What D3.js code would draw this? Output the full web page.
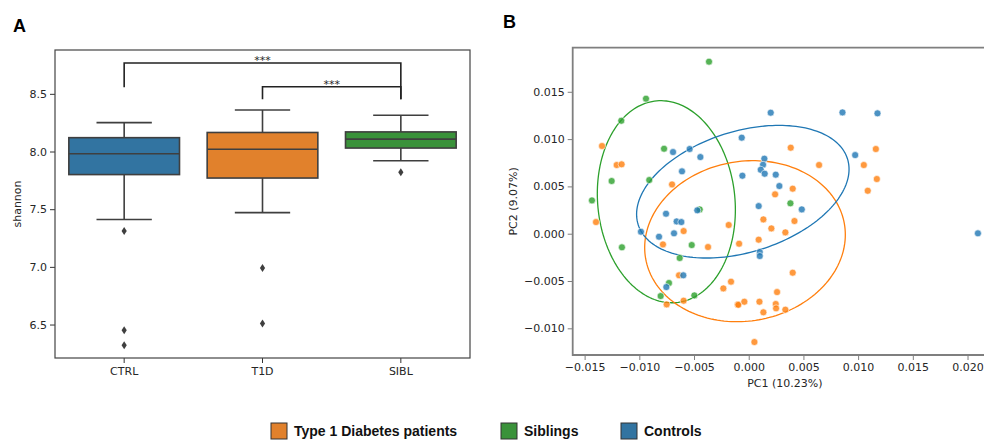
<!DOCTYPE html>
<meta charset="utf-8">
<style>
    body { margin: 0; background: #fff; }
    svg text { font-family: "DejaVu Sans", sans-serif; fill: #262626; }
    .panel-label { font-family: "Liberation Sans", Arial, sans-serif; font-weight: bold; font-size: 18px; fill: #000; }
    .legend-text { font-family: "Liberation Sans", Arial, sans-serif; font-weight: bold; font-size: 14px; fill: #111; }
    .tick text { font-size: 11px; }
</style>
<body>
<script src="https://cdnjs.cloudflare.com/ajax/libs/d3/7.8.5/d3.min.js"></script>
<script>
    // ---- panel A: shannon diversity boxplots ----
    var groups = ["CTRL", "T1D", "SIBL"];
    var q1 = [7.80, 7.77, 8.03];
    var medians = [7.98, 8.02, 8.107];
    var q3 = [8.12, 8.165, 8.17];
    var whiskLo = [7.41, 7.47, 7.92];
    var whiskHi = [8.25, 8.36, 8.315];
    var outliers = [[7.31, 6.45, 6.32], [6.99, 6.51], [7.82]];
    var boxColors = ["#3274a1", "#e1812c", "#3a923a"];
    var shannonTicks = [6.5, 7.0, 7.5, 8.0, 8.5];

    // significance brackets: from, to, bar level, left leg end, right leg end
    var brackets = [
        {from: "CTRL", to: "SIBL", bar: 8.767, left: 8.557, right: 8.453, label: "***"},
        {from: "T1D", to: "SIBL", bar: 8.562, left: 8.453, right: 8.453, label: "***"}
    ];

    // ---- panel B: PCoA ----
    var ctrlPts = [
        [0.00201, 0.01279], [0.00857, 0.01282], [0.01177, 0.01272], [-0.00064, 0.01015],
        [-0.00692, 0.00863], [-0.00540, 0.00895], [-0.00442, 0.00810], [-0.00610, 0.00659],
        [-0.00058, 0.00613], [0.00143, 0.00793], [0.00131, 0.00729], [0.00110, 0.00676],
        [0.00146, 0.00634], [0.00247, 0.00624], [0.00280, 0.00504], [0.00973, 0.00831],
        [-0.00756, 0.00211], [-0.00659, 0.00130], [-0.00616, 0.00123], [-0.00470, 0.00247],
        [-0.00985, 0.00021], [-0.00820, -0.00032], [-0.00683, 0.00004], [0.00091, 0.00292],
        [0.00485, 0.00257], [0.00101, -0.00194], [0.00101, -0.00236], [-0.00598, -0.00440],
        [-0.00753, -0.00564], [0.02095, 0.00004]
    ];
    var t1dPts = [
        [-0.01341, 0.00927], [-0.01207, 0.00726], [-0.01162, 0.00733], [-0.00701, 0.00521],
        [0.00384, 0.00909], [0.00643, 0.00726], [0.01052, 0.00726], [0.01162, 0.00895],
        [0.01171, 0.00578], [0.01088, 0.00454], [0.00241, 0.00416], [0.00402, 0.00476],
        [-0.01396, 0.00123], [-0.00595, 0.00028], [-0.00784, -0.00113], [-0.00372, -0.00141],
        [-0.00183, 0.00092], [-0.00088, -0.00106], [0.00091, -0.00063], [0.00134, 0.00151],
        [0.00207, 0.00056], [0.00335, 0.00014], [0.00418, 0.00134], [-0.00637, -0.00440],
        [-0.00595, -0.00708], [-0.00750, -0.00747], [-0.00232, -0.00578], [-0.00162, -0.00507],
        [-0.00101, -0.00747], [-0.00095, -0.00752], [-0.00040, -0.00719], [0.00098, -0.00719],
        [0.00134, -0.00831], [0.00247, -0.00743], [0.00250, -0.00789], [0.00259, -0.00617],
        [0.00335, -0.00803], [0.00402, -0.00412], [0.00052, -0.01145]
    ];
    var siblPts = [
        [-0.00363, 0.01818], [-0.00939, 0.01427], [-0.01165, 0.01194], [-0.00774, 0.00898],
        [-0.01253, 0.00557], [-0.00909, 0.00567], [-0.01433, 0.00352], [-0.00448, 0.00257],
        [-0.01159, -0.00144], [-0.00521, -0.00120], [-0.00631, -0.00257], [-0.00729, -0.00521],
        [-0.00805, -0.00659], [-0.00497, -0.00652], [0.00381, 0.00321]
    ];
    // confidence ellipses: centre x, centre y, half-width, half-height, correlation
    var ellipses = [
        {name: "SIBL", cx: -0.00753, cy: 0.00338, sx: 0.00631, sy: 0.01068, rho: -0.08},
        {name: "T1D", cx: -0.00034, cy: -0.00079, sx: 0.00917, sy: 0.00851, rho: 0.08},
        {name: "CTRL", cx: -0.00054, cy: 0.00444, sx: 0.00971, sy: 0.00701, rho: 0.34}
    ];
    var pcColors = {CTRL: "#1f77b4", T1D: "#ff7f0e", SIBL: "#2ca02c"};
    var pcXTicks = [-0.015, -0.010, -0.005, 0.000, 0.005, 0.010, 0.015, 0.020];
    var pcYTicks = [-0.010, -0.005, 0.000, 0.005, 0.010, 0.015];

    var legendItems = ["Type 1 Diabetes patients", "Siblings", "Controls"];
    var legendColors = ["#e1812c", "#3a923a", "#3274a1"];

    var width = 984, height = 441;
    var svg = d3.select("body").append("svg")
        .attr("width", width)
        .attr("height", height);

    // ================= panel A =================
    var a = {left: 55, right: 470, top: 50, bottom: 358};
    var xA = d3.scaleBand().domain(groups).range([a.left, a.right]);
    var yA = d3.scaleLinear().domain([6.21, 8.88]).range([a.bottom, a.top]);
    var edge = "#3f3f3f";

    var gA = svg.append("g");

    gA.append("g")
        .attr("transform", "translate(" + a.left + ",0)")
        .call(d3.axisLeft(yA).tickValues(shannonTicks).tickFormat(d3.format(".1f")).tickSize(5).tickPadding(3))
        .call(function(g) { g.select(".domain").remove(); g.selectAll("line").attr("stroke", "#333"); });

    gA.append("g")
        .attr("transform", "translate(0," + a.bottom + ")")
        .call(d3.axisBottom(xA).tickSize(5).tickPadding(4))
        .call(function(g) { g.select(".domain").remove(); g.selectAll("line").attr("stroke", "#333"); });

    var bw = xA.bandwidth() * 0.8;
    var boxes = gA.selectAll(".box").data(groups).enter().append("g").attr("class", "box");

    boxes.append("line")
        .attr("x1", function(d) { return xA(d) + xA.bandwidth() / 2; })
        .attr("x2", function(d) { return xA(d) + xA.bandwidth() / 2; })
        .attr("y1", function(d, i) { return yA(whiskHi[i]); })
        .attr("y2", function(d, i) { return yA(q3[i]); })
        .attr("stroke", edge).attr("stroke-width", 1.6);
    boxes.append("line")
        .attr("x1", function(d) { return xA(d) + xA.bandwidth() / 2; })
        .attr("x2", function(d) { return xA(d) + xA.bandwidth() / 2; })
        .attr("y1", function(d, i) { return yA(q1[i]); })
        .attr("y2", function(d, i) { return yA(whiskLo[i]); })
        .attr("stroke", edge).attr("stroke-width", 1.6);
    [whiskHi, whiskLo].forEach(function(arr) {
        boxes.append("line")
            .attr("x1", function(d) { return xA(d) + xA.bandwidth() / 2 - bw / 4; })
            .attr("x2", function(d) { return xA(d) + xA.bandwidth() / 2 + bw / 4; })
            .attr("y1", function(d, i) { return yA(arr[i]); })
            .attr("y2", function(d, i) { return yA(arr[i]); })
            .attr("stroke", edge).attr("stroke-width", 1.6);
    });
    boxes.append("rect")
        .attr("x", function(d) { return xA(d) + (xA.bandwidth() - bw) / 2; })
        .attr("width", bw)
        .attr("y", function(d, i) { return yA(q3[i]); })
        .attr("height", function(d, i) { return yA(q1[i]) - yA(q3[i]); })
        .attr("fill", function(d, i) { return boxColors[i]; })
        .attr("stroke", edge).attr("stroke-width", 1.6);
    boxes.append("line")
        .attr("x1", function(d) { return xA(d) + (xA.bandwidth() - bw) / 2; })
        .attr("x2", function(d) { return xA(d) + (xA.bandwidth() + bw) / 2; })
        .attr("y1", function(d, i) { return yA(medians[i]); })
        .attr("y2", function(d, i) { return yA(medians[i]); })
        .attr("stroke", edge).attr("stroke-width", 1.6);

    // outlier diamonds
    var fliers = [];
    groups.forEach(function(g, i) {
        outliers[i].forEach(function(v) { fliers.push({g: g, v: v}); });
    });
    gA.selectAll(".flier").data(fliers).enter().append("path")
        .attr("class", "flier")
        .attr("transform", function(d) { return "translate(" + (xA(d.g) + xA.bandwidth() / 2) + "," + yA(d.v) + ")"; })
        .attr("d", "M0,-4L2.6,0L0,4L-2.6,0Z")
        .attr("fill", edge);

    // significance brackets
    var bk = gA.selectAll(".bracket").data(brackets).enter().append("g").attr("class", "bracket");
    bk.append("path")
        .attr("d", function(d) {
            var x1 = xA(d.from) + xA.bandwidth() / 2, x2 = xA(d.to) + xA.bandwidth() / 2;
            return "M" + x1 + "," + yA(d.left) + "V" + yA(d.bar) + "H" + x2 + "V" + yA(d.right);
        })
        .attr("fill", "none")
        .attr("stroke", "#222")
        .attr("stroke-width", 1.6);
    bk.append("text")
        .attr("x", function(d) { return (xA(d.from) + xA(d.to)) / 2 + xA.bandwidth() / 2; })
        .attr("y", function(d) { return yA(d.bar) + 1; })
        .attr("text-anchor", "middle")
        .style("font-size", "11px")
        .text(function(d) { return d.label; });

    gA.append("rect")
        .attr("x", a.left).attr("y", a.top)
        .attr("width", a.right - a.left).attr("height", a.bottom - a.top)
        .attr("fill", "none").attr("stroke", "#444").attr("stroke-width", 1.2);

    gA.append("text")
        .attr("transform", "translate(21," + (a.top + a.bottom) / 2 + ") rotate(-90)")
        .attr("text-anchor", "middle")
        .style("font-size", "11px")
        .text("shannon");

    svg.append("text").attr("class", "panel-label").attr("x", 13).attr("y", 31.5).text("A");

    // ================= panel B =================
    var b = {left: 572.7, right: 997, top: 47.7, bottom: 355};
    var xB = d3.scaleLinear().domain([-0.01609, -0.01609 + (b.right - b.left) / 10940]).range([b.left, b.right]);
    var yB = d3.scaleLinear().domain([-0.01282, 0.01966]).range([b.bottom, b.top]);
    var spine = "#7f7f7f";

    var gB = svg.append("g");

    var ellipsePath = d3.line()
        .x(function(p) { return xB(p[0]); })
        .y(function(p) { return yB(p[1]); });

    gB.selectAll(".ellipse").data(ellipses).enter().append("path")
        .attr("class", "ellipse")
        .attr("d", function(e) {
            var delta = Math.acos(e.rho);
            var pts = d3.range(0, 361, 2).map(function(deg) {
                var t = deg * Math.PI / 180;
                return [e.cx + e.sx * Math.cos(t), e.cy + e.sy * Math.cos(t - delta)];
            });
            return ellipsePath(pts);
        })
        .attr("fill", "none")
        .attr("stroke", function(e) { return pcColors[e.name]; })
        .attr("stroke-width", 1.3);

    var pcSets = [["SIBL", siblPts], ["T1D", t1dPts], ["CTRL", ctrlPts]];
    pcSets.forEach(function(s) {
        gB.selectAll(".pt-" + s[0]).data(s[1]).enter().append("circle")
            .attr("class", "pt-" + s[0])
            .attr("cx", function(d) { return xB(d[0]); })
            .attr("cy", function(d) { return yB(d[1]); })
            .attr("r", 3.5)
            .attr("fill", pcColors[s[0]])
            .attr("fill-opacity", 0.8)
            .attr("stroke", "#fff")
            .attr("stroke-width", 0.6);
    });

    gB.append("g")
        .attr("transform", "translate(" + b.left + ",0)")
        .call(d3.axisLeft(yB).tickValues(pcYTicks).tickFormat(d3.format(".3f")).tickSize(5).tickPadding(3))
        .call(function(g) { g.select(".domain").remove(); g.selectAll("line").attr("stroke", spine); });

    gB.append("g")
        .attr("transform", "translate(0," + b.bottom + ")")
        .call(d3.axisBottom(xB).tickValues(pcXTicks).tickFormat(d3.format(".3f")).tickSize(5).tickPadding(3))
        .call(function(g) { g.select(".domain").remove(); g.selectAll("line").attr("stroke", spine); });

    gB.append("path")
        .attr("d", "M" + b.right + "," + b.top + "H" + b.left + "V" + b.bottom + "H" + b.right)
        .attr("fill", "none")
        .attr("stroke", spine)
        .attr("stroke-width", 1.8);

    gB.append("text")
        .attr("x", (b.left + b.right) / 2).attr("y", 387)
        .attr("text-anchor", "middle")
        .style("font-size", "11px")
        .text("PC1 (10.23%)");

    gB.append("text")
        .attr("transform", "translate(517," + (b.top + b.bottom) / 2 + ") rotate(-90)")
        .attr("text-anchor", "middle")
        .style("font-size", "11px")
        .text("PC2 (9.07%)");

    svg.append("text").attr("class", "panel-label").attr("x", 503).attr("y", 27.5).text("B");

    // ================= legend =================
    var legendX = [271, 501, 621];
    var lg = svg.selectAll(".legend").data(legendItems).enter().append("g").attr("class", "legend");
    lg.append("rect")
        .attr("x", function(d, i) { return legendX[i]; })
        .attr("y", 423)
        .attr("width", 16).attr("height", 16)
        .attr("fill", function(d, i) { return legendColors[i]; })
        .attr("stroke", "#333").attr("stroke-width", 1);
    lg.append("text")
        .attr("class", "legend-text")
        .attr("x", function(d, i) { return legendX[i] + 23; })
        .attr("y", 436)
        .text(function(d) { return d; });
</script>
</body>
